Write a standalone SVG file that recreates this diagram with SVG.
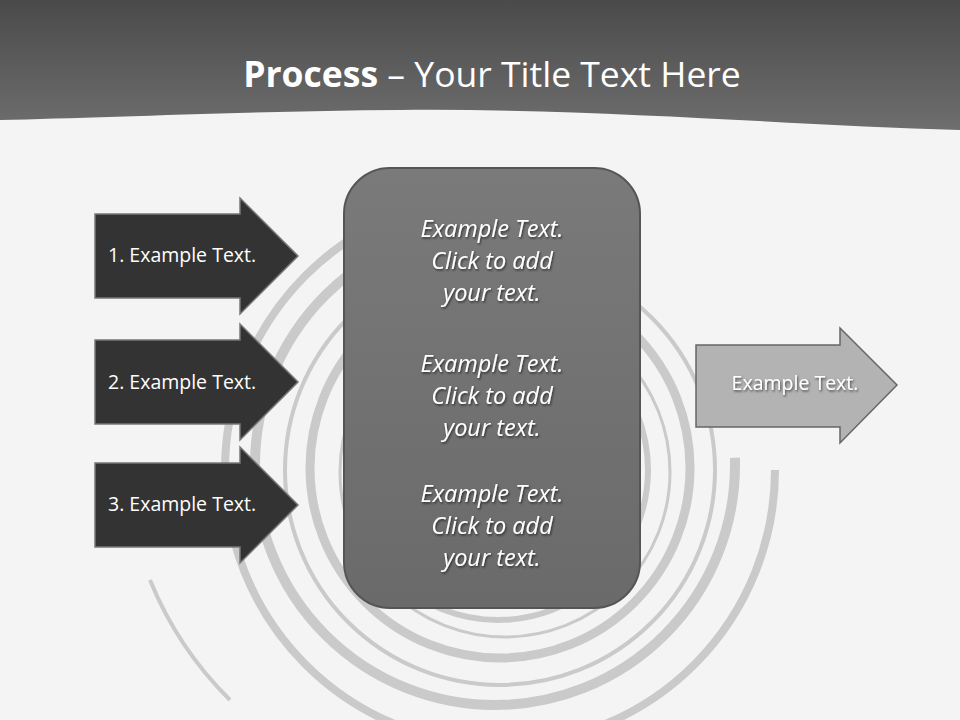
<svg xmlns="http://www.w3.org/2000/svg" width="960" height="720" viewBox="0 0 960 720">
<defs>
<linearGradient id="hdr" x1="0" y1="0" x2="0" y2="1"><stop offset="0" stop-color="#4a4a4a"/><stop offset="1" stop-color="#6e6e6e"/></linearGradient>
<linearGradient id="box" x1="0" y1="0" x2="0" y2="1"><stop offset="0" stop-color="#7a7a7a"/><stop offset="1" stop-color="#6a6a6a"/></linearGradient>
<filter id="sh" x="-10%" y="-10%" width="130%" height="130%"><feDropShadow dx="1" dy="1.5" stdDeviation="1" flood-color="#000" flood-opacity="0.6"/></filter>
</defs>
<style>
.dark{fill:#333;stroke:#777;stroke-width:1.5}
.lt{font-family:"Open Sans","Liberation Sans",sans-serif;font-size:19.5px;fill:#fff}
.ct{font-family:"Open Sans","Liberation Sans",sans-serif;font-size:23.5px;font-style:italic;fill:#fff;text-anchor:middle;filter:url(#sh)}
.sw{fill:none;stroke:#cacaca}
</style>
<rect width="960" height="720" fill="#f4f4f4"/>
<path d="M0,0H960V130C800,126 600,108 400,110C250,111 100,118 0,120Z" fill="url(#hdr)"/>
<text x="492" y="87" text-anchor="middle" font-family="'Open Sans','Liberation Sans',sans-serif" font-size="35.5" fill="#fff"><tspan font-weight="bold">Process</tspan> – Your Title Text Here</text>
<g id="swirl">
<circle class="sw" cx="500" cy="470" r="275" stroke-width="8" stroke-dasharray="1300 500"/>
<circle class="sw" cx="495" cy="465" r="240" stroke-width="10" stroke-dasharray="1200 300"/>
<circle class="sw" cx="500" cy="470" r="215" stroke-width="4"/>
<circle class="sw" cx="500" cy="468" r="190" stroke-width="9"/>
<circle class="sw" cx="505" cy="472" r="165" stroke-width="3"/>
<circle class="sw" cx="498" cy="470" r="150" stroke-width="6"/>
<path class="sw" d="M150,580 A360,360 0 0 0 230,700" stroke-width="4"/>
</g>
<g id="a1"><path class="dark" d="M95,214H240V198L298,256L240,314V298H95Z"/><text class="lt" x="108" y="262">1. Example Text.</text></g>
<g id="a2"><path class="dark" d="M95,340H240V324L298,382L240,440V424H95Z"/><text class="lt" x="108" y="389">2. Example Text.</text></g>
<g id="a3"><path class="dark" d="M95,463H240V447L298,505L240,563V547H95Z"/><text class="lt" x="108" y="511">3. Example Text.</text></g>
<g id="center"><rect x="344" y="168" width="296" height="440" rx="46" fill="url(#box)" stroke="#555" stroke-width="2"/>
<text class="ct" x="492" y="237">Example Text.</text><text class="ct" x="492" y="269">Click  to add</text><text class="ct" x="492" y="301">your text.</text>
<text class="ct" x="492" y="372">Example Text.</text><text class="ct" x="492" y="404">Click  to add</text><text class="ct" x="492" y="436">your text.</text>
<text class="ct" x="492" y="502">Example Text.</text><text class="ct" x="492" y="534">Click  to add</text><text class="ct" x="492" y="566">your text.</text></g>
<g id="out"><path d="M696,345H840V328L897,385L840,443V427H696Z" fill="#b3b3b3" stroke="#666" stroke-width="1.5"/><text class="lt" x="795" y="390" text-anchor="middle" filter="url(#sh)">Example Text.</text></g>
<g id="connectors"/>
</svg>
